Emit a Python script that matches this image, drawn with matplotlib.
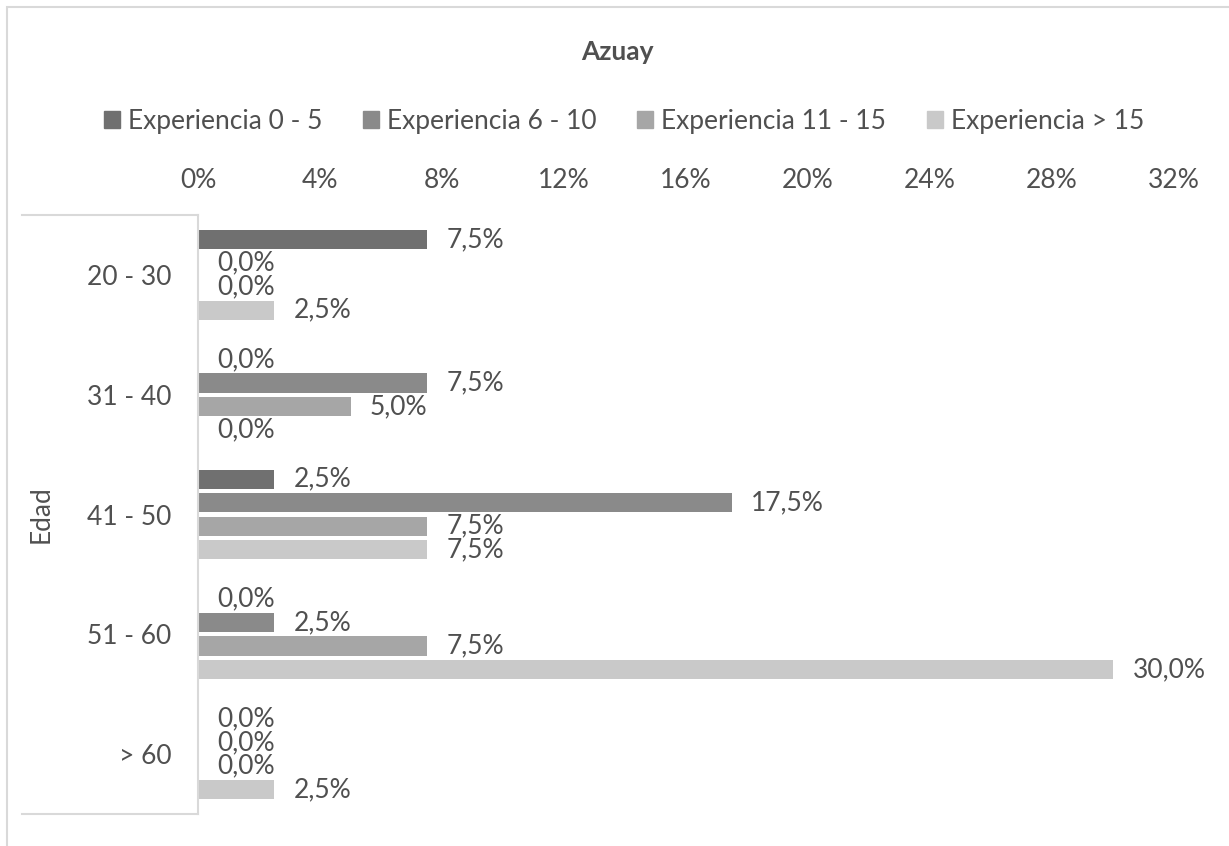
import matplotlib
matplotlib.use("Agg")
import matplotlib.pyplot as plt
from matplotlib.patches import Patch, Rectangle
from matplotlib.lines import Line2D
import numpy as np

categorias = ["20 - 30", "31 - 40", "41 - 50", "51 - 60", "> 60"]
series = ["Experiencia 0 - 5", "Experiencia 6 - 10", "Experiencia 11 - 15", "Experiencia > 15"]
exp_0_5 = [7.5, 0.0, 2.5, 0.0, 0.0]
exp_6_10 = [0.0, 7.5, 17.5, 2.5, 0.0]
exp_11_15 = [0.0, 5.0, 7.5, 7.5, 0.0]
exp_15_mas = [2.5, 0.0, 7.5, 30.0, 2.5]
x_ticks = [0, 4, 8, 12, 16, 20, 24, 28, 32]

colores = ["#707070", "#8a8a8a", "#a6a6a6", "#c9c9c9"]
gris_texto = "#505050"
gris_linea = "#d9d9d9"

plt.rcParams["font.family"] = ["Lato", "DejaVu Sans"]
plt.rcParams["font.size"] = 19

W, H = 1229, 846
fig = plt.figure(figsize=(W / 100, H / 100), dpi=100)
ax = fig.add_axes([198 / W, (H - 814) / H, (1174 - 198) / W, (814 - 215) / H])

valores = [exp_0_5, exp_6_10, exp_11_15, exp_15_mas]
y = np.arange(len(categorias))
paso = 0.196
alto = 0.16
for j, (vals, col, nombre) in enumerate(zip(valores, colores, series)):
    pos = y + (j - 1.5) * paso
    ax.barh(pos, vals, height=alto, color=col, label=nombre)
    for p, v in zip(pos, vals):
        ax.annotate(f"{v:.1f}%".replace(".", ","), (v, p), xytext=(14, 0),
                    textcoords="offset points", va="center", ha="left",
                    color=gris_texto, fontsize=19)

ax.set_xlim(0, 32)
ax.set_ylim(len(categorias) - 0.5, -0.5)
ax.set_xticks(x_ticks)
ax.set_xticklabels([f"{t}%" for t in x_ticks])
ax.xaxis.tick_top()
ax.set_yticks(y)
ax.set_yticklabels(categorias)
ax.tick_params(axis="x", length=0, pad=16, colors=gris_texto, labelsize=19)
ax.tick_params(axis="y", length=0, pad=19, colors=gris_texto, labelsize=19)
for s in ["top", "right", "bottom"]:
    ax.spines[s].set_visible(False)
ax.spines["left"].set_color(gris_linea)
ax.spines["left"].set_linewidth(1.5)
ax.set_ylabel("Edad", color=gris_texto, fontsize=19, labelpad=0)
ax.yaxis.set_label_coords((54 - 198) / (1174 - 198), 0.5)

# caja del eje de categorías y borde exterior del gráfico
for yy in [215, 814]:
    fig.add_artist(Line2D([22 / W, 198 / W], [(H - yy) / H] * 2, color=gris_linea, lw=1.5))
fig.add_artist(Rectangle((7 / W, -0.1), 1.2, (H - 7) / H + 0.1, fill=False,
                         edgecolor=gris_linea, lw=1.5))

fig.text(617 / W, (H - 52) / H, "Azuay", ha="center", va="center",
         fontsize=19, fontweight="bold", color=gris_texto)

handles = [Patch(color=c) for c in colores]
fig.legend(handles, series, loc="center", bbox_to_anchor=(624 / W, (H - 121) / H),
           ncol=4, frameon=False, handlelength=0.6, handleheight=0.6,
           handletextpad=0.3, columnspacing=1.55, labelcolor=gris_texto, fontsize=19)

fig.savefig("out.png", dpi=100)
